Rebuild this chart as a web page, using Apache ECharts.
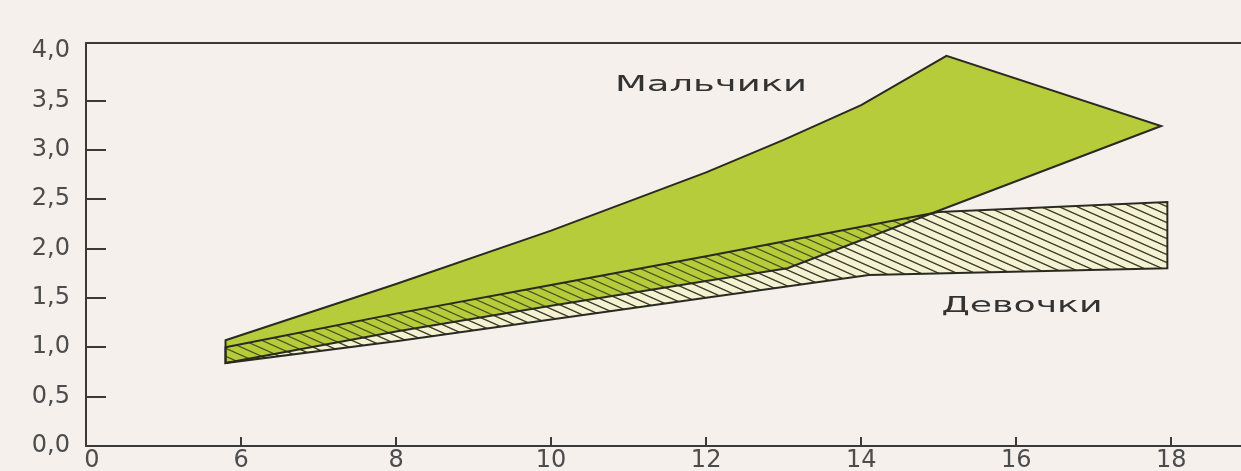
<!DOCTYPE html>
<html>
<head>
<meta charset="utf-8">
<script src="https://cdn.jsdelivr.net/npm/echarts@6/dist/echarts.min.js"></script>
<style>
  html, body { margin: 0; padding: 0; background: #f6f0ed; }
  #chart { width: 1241px; height: 471px; }
</style>
</head>
<body>
<div id="chart"></div>
<script>
// ---- Data (age in years, value) ----
const boysUpperAge = [5.8, 8, 10, 12, 13, 14, 15.1, 17.87];
const boysUpperVal = [1.07, 1.64, 2.18, 2.77, 3.10, 3.45, 3.95, 3.24];
const boysLowerAge = [5.8, 8, 10, 12, 13.05, 17.87];
const boysLowerVal = [0.84, 1.16, 1.42, 1.67, 1.80, 3.24];

const girlsUpperAge = [5.8, 8, 10, 12, 15, 17.95];
const girlsUpperVal = [1.00, 1.34, 1.63, 1.92, 2.37, 2.47];
const girlsLowerAge = [5.8, 8, 10, 12, 14.1, 17.95];
const girlsLowerVal = [0.84, 1.06, 1.28, 1.50, 1.73, 1.80];

const xTickValues = [4, 6, 8, 10, 12, 14, 16, 18];
const xTickLabels = ['0', '6', '8', '10', '12', '14', '16', '18'];
const yTickLabels = ['0,0', '0,5', '1,0', '1,5', '2,0', '2,5', '3,0', '3,5', '4,0'];

const boysName = 'Мальчики';
const girlsName = 'Девочки';

// ---- Build polygons ----
function band(upA, upV, loA, loV) {
  const pts = upA.map((a, i) => [a, upV[i]]);
  for (let i = loA.length - 1; i >= 0; i--) pts.push([loA[i], loV[i]]);
  return pts;
}
const boysPoly = band(boysUpperAge, boysUpperVal, boysLowerAge, boysLowerVal);
const girlsPoly = band(girlsUpperAge, girlsUpperVal, girlsLowerAge, girlsLowerVal);

// ---- Hatch patterns ----
function hatch(bg, color, lw) {
  const W = 18, H = 8;
  const c = document.createElement('canvas');
  c.width = W; c.height = H;
  const ctx = c.getContext('2d');
  if (bg) { ctx.fillStyle = bg; ctx.fillRect(0, 0, W, H); }
  ctx.strokeStyle = color;
  ctx.lineWidth = lw;
  ctx.beginPath();
  for (let k = -3; k <= 3; k++) {
    ctx.moveTo(-W, -H + k * H);
    ctx.lineTo(2 * W, 2 * H + k * H);
  }
  ctx.stroke();
  return { image: c, repeat: 'repeat' };
}
const girlsFillPattern = hatch('#f4f2d3', 'rgba(50,50,40,0.7)', 1.1);
const overlayPattern = hatch(null, 'rgba(40,45,20,0.75)', 1.2);

const lineColor = '#2a2a20';

function polySeries(name, poly, style, z) {
  return {
    type: 'custom',
    name: name,
    z: z,
    silent: true,
    data: poly,
    encode: { x: 0, y: 1 },
    renderItem: function (params, api) {
      if (params.dataIndex !== 0) return null;
      const pts = poly.map(p => api.coord(p));
      return { type: 'polygon', shape: { points: pts }, style: style, silent: true };
    }
  };
}

// ---- Text stretch (reference text is horizontally stretched) ----
function stretch(text, font, target) {
  const c = document.createElement('canvas').getContext('2d');
  c.font = font;
  return target / c.measureText(text).width;
}
const annFont = '22px "DejaVu Sans"';

const chart = echarts.init(document.getElementById('chart'), null, { renderer: 'canvas' });

const axisLabelStyle = { color: '#4c4c4c', fontSize: 24, fontFamily: 'DejaVu Sans' };

chart.setOption({
  backgroundColor: '#f6f0ed',
  animation: false,
  grid: { left: 86, right: 0, top: 43, bottom: 25, containLabel: false, outerBoundsMode: 'none' },
  xAxis: [{
    type: 'value',
    min: 4, max: 18.9, interval: 2,
    splitLine: { show: false },
    axisLine: { show: true, lineStyle: { color: '#3a3a3a', width: 2 } },
    axisTick: { show: true, inside: true, length: 9, lineStyle: { color: '#3a3a3a', width: 2 }, customValues: xTickValues.slice(1) },
    axisLabel: Object.assign({}, axisLabelStyle, {
      margin: 3,
      showMaxLabel: false,
      formatter: function (v) {
        const i = xTickValues.indexOf(Math.round(v));
        if (i === 0) return '{z|' + xTickLabels[0] + '}';
        return i >= 0 ? xTickLabels[i] : '';
      },
      rich: { z: { fontSize: 24, fontFamily: 'DejaVu Sans', color: '#4c4c4c', padding: [0, 0, 0, 12] } }
    })
  }, {
    type: 'value', position: 'top',
    min: 4, max: 18.9,
    splitLine: { show: false },
    axisLine: { show: true, lineStyle: { color: '#3a3a3a', width: 2 } },
    axisTick: { show: false },
    axisLabel: { show: false }
  }],
  yAxis: {
    type: 'value',
    min: 0, max: 4.08, interval: 0.5,
    splitLine: { show: false },
    axisLine: { show: true, lineStyle: { color: '#3a3a3a', width: 2 } },
    axisTick: { show: true, inside: true, length: 20, lineStyle: { color: '#3a3a3a', width: 2 }, customValues: [0.5, 1, 1.5, 2, 2.5, 3, 3.5] },
    axisLabel: Object.assign({}, axisLabelStyle, {
      margin: 16,
      showMaxLabel: true,
      formatter: function (v) {
        const i = Math.round(v / 0.5);
        return Math.abs(v - i * 0.5) < 1e-6 && i < yTickLabels.length ? yTickLabels[i] : '';
      }
    })
  },
  series: [
    polySeries(girlsName, girlsPoly, { fill: girlsFillPattern, stroke: 'none' }, 1),
    polySeries(boysName, boysPoly, { fill: '#b6cc3b', stroke: lineColor, lineWidth: 2, lineJoin: 'miter' }, 2),
    polySeries(girlsName + ' ', girlsPoly, { fill: overlayPattern, stroke: lineColor, lineWidth: 2, lineJoin: 'miter' }, 3)
  ],
  graphic: [
    {
      type: 'text', x: 711, y: 85, z: 10,
      scaleX: stretch(boysName, annFont, 192),
      style: { text: boysName, font: annFont, fill: '#333333', align: 'center', verticalAlign: 'middle' }
    },
    {
      type: 'text', x: 1022, y: 306, z: 10,
      scaleX: stretch(girlsName, annFont, 161),
      style: { text: girlsName, font: annFont, fill: '#333333', align: 'center', verticalAlign: 'middle' }
    }
  ]
});
</script>
</body>
</html>
